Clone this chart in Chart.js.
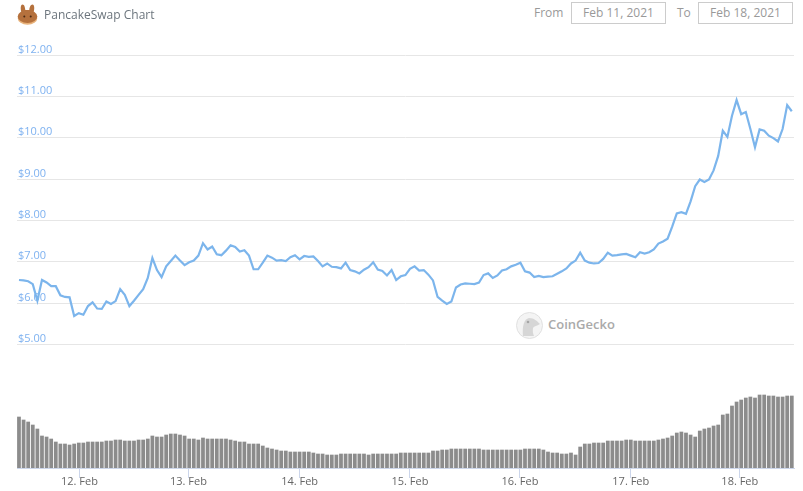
<!DOCTYPE html>
<html>
<head>
<meta charset="utf-8">
<title>PancakeSwap Chart</title>
<script src="https://cdn.jsdelivr.net/npm/chart.js@4"></script>
<style>
    html, body { margin: 0; padding: 0; background: #fff; }
    body { width: 803px; height: 491px; position: relative; overflow: hidden; font-family: "Open Sans", sans-serif; }
    #chart { position: absolute; left: 0; top: 0; z-index: 2; }
    .title { position: absolute; left: 44px; top: 6px; font-size: 12px; line-height: 18px; color: #6c757d; z-index: 3; }
    .label { position: absolute; top: 4px; font-size: 12px; line-height: 18px; color: #999; }
    .date { position: absolute; top: 2px; width: 93px; height: 20px; border: 1px solid #ccc; font-size: 12px; line-height: 20px; text-align: center; color: #999; }
    .mark { position: absolute; left: 516px; top: 312px; z-index: 1; }
    .markText { position: absolute; left: 548px; top: 315px; font-size: 13px; line-height: 18px; font-weight: 600; color: #aaa; z-index: 1; }
</style>
</head>
<body>
<svg style="position:absolute;left:17px;top:4px" width="21" height="21" viewBox="0 0 21 21">
    <path d="M5 10 C3 5 3.500 0.500 5.500 0.500 C7.500 0.500 8 3.500 8.300 6 L12.300 6 C12.500 3.500 13.500 0.500 15.500 0.500 C17.500 0.500 18 5 16 10 Z" fill="#b5713d"/>
    <ellipse cx="10.5" cy="14" rx="9.8" ry="6.8" fill="#e8b27a"/>
    <ellipse cx="10.5" cy="12.5" rx="9.8" ry="6.4" fill="#b5713d"/>
    <circle cx="7.3" cy="12.5" r="1" fill="#4a2a14"/>
    <circle cx="13.7" cy="12.5" r="1" fill="#4a2a14"/>
</svg>
<div class="title">PancakeSwap Chart</div>
<div class="label" style="left:534px">From</div>
<div class="date" style="left:571px">Feb 11, 2021</div>
<div class="label" style="left:677px">To</div>
<div class="date" style="left:698px">Feb 18, 2021</div>
<svg class="mark" width="27" height="27" viewBox="0 0 27 27">
    <circle cx="13.5" cy="13.5" r="13" fill="#f4f4f4" stroke="#e0e0e0"/>
    <path d="M7 24 C6 14 8 7 13 6 C18 6 21 9 24 12 C21 14 18 14 17 16 C16.500 19 17 22 18 24 Z" fill="#d6d6d6"/>
    <circle cx="12" cy="10" r="1.3" fill="#a5a5a5"/>
</svg>
<div class="markText">CoinGecko</div>
<canvas id="chart" width="803" height="491"></canvas>
<script>
const priceTicks = [5, 6, 7, 8, 9, 10, 11, 12];
const dayTicks = [13.15, 36.85, 61, 85, 108.9, 133, 156.7];
const dayLabels = ['12. Feb', '13. Feb', '14. Feb', '15. Feb', '16. Feb', '17. Feb', '18. Feb'];

const prices = [
    6.56, 6.55, 6.53, 6.46, 6.06, 6.56, 6.50, 6.41, 6.41, 6.19, 6.15, 6.14, 5.69,
    5.76, 5.72, 5.93, 6.02, 5.87, 5.86, 6.04, 5.98, 6.05, 6.34, 6.20, 5.93, 6.06,
    6.20, 6.34, 6.61, 7.09, 6.80, 6.63, 6.89, 7.02, 7.15, 7.03, 6.92, 6.99, 7.03,
    7.15, 7.45, 7.30, 7.37, 7.18, 7.16, 7.27, 7.40, 7.36, 7.25, 7.28, 7.15, 6.82,
    6.82, 6.98, 7.15, 7.10, 7.03, 7.04, 7.02, 7.11, 7.16, 7.06, 7.14, 7.12, 7.13,
    7.02, 6.89, 6.96, 6.88, 6.87, 6.84, 6.98, 6.80, 6.77, 6.72, 6.81, 6.87, 6.99,
    6.81, 6.78, 6.67, 6.80, 6.56, 6.65, 6.68, 6.83, 6.89, 6.79, 6.80, 6.69, 6.55,
    6.15, 6.06, 5.98, 6.04, 6.38, 6.45, 6.48, 6.47, 6.46, 6.50, 6.68, 6.72, 6.61,
    6.67, 6.79, 6.82, 6.89, 6.93, 6.98, 6.77, 6.74, 6.63, 6.66, 6.63, 6.64, 6.65,
    6.71, 6.77, 6.84, 6.96, 7.03, 7.22, 7.03, 6.98, 6.96, 6.97, 7.07, 7.22, 7.15,
    7.16, 7.18, 7.19, 7.15, 7.11, 7.23, 7.20, 7.23, 7.30, 7.44, 7.49, 7.56, 7.85,
    8.17, 8.20, 8.16, 8.46, 8.83, 8.99, 8.93, 8.99, 9.21, 9.56, 10.17, 10.02, 10.53,
    10.91, 10.57, 10.62, 10.21, 9.77, 10.20, 10.17, 10.05, 9.99, 9.91, 10.21, 10.79, 10.64
];

const volumes = [
    51, 48, 46, 43, 39, 32, 31, 29, 26, 24, 24, 23, 24, 25, 25, 26, 26, 26, 26, 27,
    27, 28, 28, 27, 27, 27, 28, 28, 29, 32, 31, 31, 33, 34, 34, 33, 32, 29, 29, 28,
    30, 29, 29, 29, 29, 29, 28, 27, 26, 26, 24, 24, 24, 22, 20, 19, 18, 17, 17, 16,
    16, 16, 16, 16, 15, 14, 14, 13, 13, 13, 14, 14, 14, 14, 14, 14, 13, 14, 14, 14,
    14, 14, 14, 15, 15, 15, 15, 15, 15, 15, 17, 17, 18, 18, 19, 19, 19, 19, 19, 19,
    19, 18, 18, 18, 18, 18, 18, 18, 18, 18, 19, 19, 19, 19, 18, 16, 15, 15, 14, 14,
    15, 13, 21, 24, 24, 25, 25, 25, 27, 27, 27, 27, 28, 28, 27, 27, 27, 27, 27, 28,
    29, 30, 32, 35, 36, 35, 33, 31, 37, 39, 40, 42, 43, 53, 54, 62, 66, 68, 70, 71,
    70, 73, 73, 72, 72, 71, 71, 72, 72
];

const ctx = document.getElementById('chart').getContext('2d');

new Chart(ctx, {
    data: {
        datasets: [
            {
                type: 'line',
                data: prices.map((p, i) => ({ x: i, y: p })),
                yAxisID: 'price',
                borderColor: '#7cb5ec',
                borderWidth: 2.2,
                pointRadius: 0,
                tension: 0,
                order: 1
            },
            {
                type: 'bar',
                data: volumes.map((v, i) => ({ x: i, y: v })),
                yAxisID: 'volume',
                backgroundColor: '#8c8c8c',
                barThickness: 3.1,
                order: 2
            }
        ]
    },
    options: {
        responsive: false,
        animation: false,
        layout: { padding: { left: 17, right: 9, top: 55, bottom: 0 } },
        plugins: { legend: { display: false }, tooltip: { enabled: false } },
        scales: {
            x: {
                type: 'linear',
                offset: false,
                min: -0.43,
                max: 168.48,
                afterBuildTicks: axis => { axis.ticks = dayTicks.map(v => ({ value: v })); },
                afterFit: axis => { axis.height = 23; },
                grid: { offset: false, drawOnChartArea: false, tickColor: '#ccd6eb', tickLength: 10 },
                border: { color: '#ccd6eb' },
                ticks: {
                    autoSkip: false,
                    maxRotation: 0,
                    padding: -3,
                    color: '#666',
                    font: { family: '"Open Sans", sans-serif', size: 11 },
                    callback: (value, index) => dayLabels[index]
                }
            },
            price: {
                position: 'left',
                min: 2.015,
                max: 12,
                afterBuildTicks: axis => { axis.ticks = priceTicks.map(v => ({ value: v })); },
                afterFit: axis => { axis.width = 0; },
                grid: { color: '#e6e6e6', drawTicks: false },
                border: { display: false },
                ticks: {
                    mirror: true,
                    padding: 1,
                    labelOffset: -5.5,
                    autoSkip: false,
                    color: '#7fb2f0',
                    font: { family: '"Open Sans", sans-serif', size: 11 },
                    callback: value => '$' + value.toFixed(2)
                }
            },
            volume: {
                display: false,
                min: 0,
                max: 413
            }
        }
    }
});
</script>
</body>
</html>
